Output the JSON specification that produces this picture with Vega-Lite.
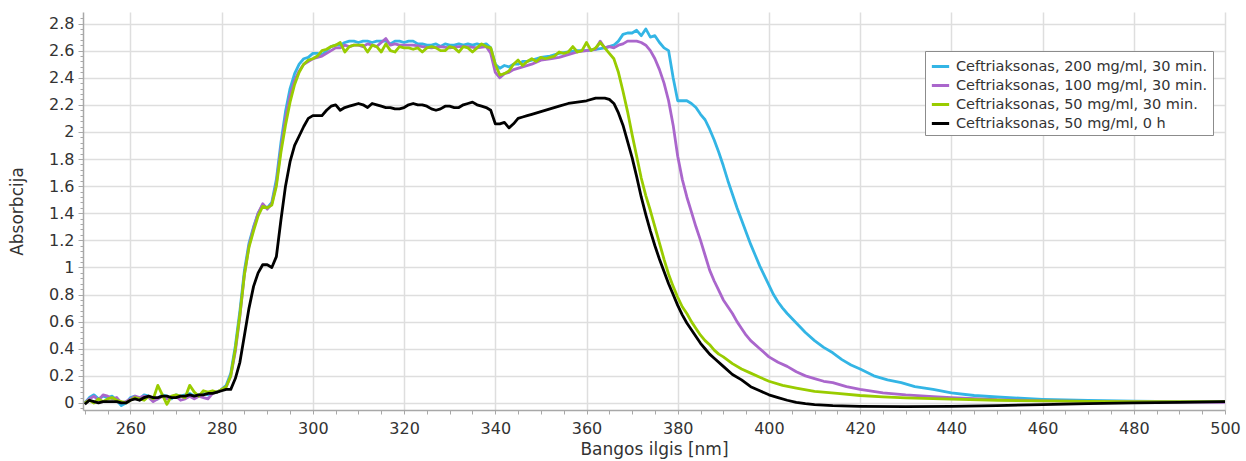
{
  "$schema": "https://vega.github.io/schema/vega-lite/v6.json",
  "width": 1142,
  "height": 398,
  "autosize": {"type": "none"},
  "padding": {"left": 83, "top": 12, "right": 21, "bottom": 51},
  "background": "white",
  "config": {
    "font": "DejaVu Sans",
    "view": {"stroke": null},
    "axis": {
      "labelFont": "DejaVu Sans", "labelFontSize": 16, "labelColor": "#333333",
      "titleFont": "DejaVu Sans", "titleFontSize": 17, "titleFontWeight": "normal", "titleColor": "#333333",
      "domainColor": "#a8a8a8", "domainWidth": 1.5, "tickColor": "#a8a8a8", "gridColor": "#dedede", "gridWidth": 1.5
    },
    "legend": {
      "orient": "none", "legendX": 842, "legendY": 39,
      "strokeColor": "#8c8c8c", "fillColor": "white", "padding": 5,
      "labelFont": "DejaVu Sans", "labelFontSize": 14.5, "labelColor": "#333333",
      "symbolType": "stroke", "symbolStrokeWidth": 3, "symbolSize": 300, "rowPadding": 2, "labelOffset": 5, "labelLimit": 400
    }
  },
  "datasets": {
    "b": [
      {"x":250,"y":0.0},{"x":251,"y":0.04},{"x":252,"y":0.06},{"x":253,"y":0.03},{"x":254,"y":0.05},{"x":255,"y":0.04},{"x":256,"y":0.05},{"x":257,"y":0.02},{"x":258,"y":-0.02},{"x":259,"y":0.0},
      {"x":260,"y":0.04},{"x":261,"y":0.05},{"x":262,"y":0.03},{"x":263,"y":0.06},{"x":264,"y":0.05},{"x":265,"y":0.02},{"x":266,"y":0.03},{"x":267,"y":0.06},{"x":268,"y":0.05},{"x":269,"y":0.03},
      {"x":270,"y":0.06},{"x":271,"y":0.05},{"x":272,"y":0.06},{"x":273,"y":0.07},{"x":274,"y":0.05},{"x":275,"y":0.06},{"x":276,"y":0.07},{"x":277,"y":0.06},{"x":278,"y":0.08},{"x":279,"y":0.08},
      {"x":280,"y":0.1},{"x":281,"y":0.13},{"x":282,"y":0.22},{"x":283,"y":0.42},{"x":284,"y":0.68},{"x":285,"y":0.98},{"x":286,"y":1.18},{"x":287,"y":1.3},{"x":288,"y":1.4},{"x":289,"y":1.46},
      {"x":290,"y":1.44},{"x":291,"y":1.48},{"x":292,"y":1.65},{"x":293,"y":1.92},{"x":294,"y":2.15},{"x":295,"y":2.32},{"x":296,"y":2.43},{"x":297,"y":2.5},{"x":298,"y":2.54},{"x":299,"y":2.55},
      {"x":300,"y":2.58},{"x":301,"y":2.58},{"x":302,"y":2.57},{"x":303,"y":2.6},{"x":304,"y":2.63},{"x":305,"y":2.64},{"x":306,"y":2.64},{"x":307,"y":2.66},{"x":308,"y":2.67},{"x":309,"y":2.67},
      {"x":310,"y":2.66},{"x":311,"y":2.67},{"x":312,"y":2.67},{"x":313,"y":2.66},{"x":314,"y":2.67},{"x":315,"y":2.67},{"x":316,"y":2.67},{"x":317,"y":2.65},{"x":318,"y":2.67},{"x":319,"y":2.67},
      {"x":320,"y":2.66},{"x":321,"y":2.67},{"x":322,"y":2.67},{"x":323,"y":2.65},{"x":324,"y":2.65},{"x":325,"y":2.64},{"x":326,"y":2.64},{"x":327,"y":2.65},{"x":328,"y":2.63},{"x":329,"y":2.65},
      {"x":330,"y":2.64},{"x":331,"y":2.64},{"x":332,"y":2.65},{"x":333,"y":2.64},{"x":334,"y":2.65},{"x":335,"y":2.64},{"x":336,"y":2.65},{"x":337,"y":2.64},{"x":338,"y":2.65},{"x":339,"y":2.62},
      {"x":340,"y":2.5},{"x":341,"y":2.47},{"x":342,"y":2.49},{"x":343,"y":2.48},{"x":344,"y":2.5},{"x":345,"y":2.5},{"x":346,"y":2.52},{"x":347,"y":2.52},{"x":348,"y":2.53},{"x":349,"y":2.54},
      {"x":350,"y":2.55},{"x":352,"y":2.56},{"x":354,"y":2.58},{"x":356,"y":2.59},{"x":358,"y":2.6},{"x":360,"y":2.6},{"x":362,"y":2.61},{"x":364,"y":2.62},{"x":366,"y":2.64},{"x":367,"y":2.67},
      {"x":368,"y":2.72},{"x":369,"y":2.73},{"x":370,"y":2.73},{"x":371,"y":2.75},{"x":372,"y":2.71},{"x":373,"y":2.76},{"x":374,"y":2.7},{"x":375,"y":2.71},{"x":376,"y":2.66},{"x":377,"y":2.62},
      {"x":378,"y":2.6},{"x":379,"y":2.4},{"x":380,"y":2.23},{"x":381,"y":2.23},{"x":382,"y":2.23},{"x":383,"y":2.21},{"x":384,"y":2.18},{"x":385,"y":2.13},{"x":386,"y":2.09},{"x":387,"y":2.02},
      {"x":388,"y":1.94},{"x":389,"y":1.85},{"x":390,"y":1.75},{"x":391,"y":1.64},{"x":392,"y":1.54},{"x":393,"y":1.44},{"x":394,"y":1.35},{"x":395,"y":1.26},{"x":396,"y":1.17},{"x":397,"y":1.09},
      {"x":398,"y":1.01},{"x":399,"y":0.94},{"x":400,"y":0.87},{"x":401,"y":0.8},{"x":402,"y":0.745},{"x":403,"y":0.7},{"x":404,"y":0.66},{"x":406,"y":0.59},{"x":408,"y":0.52},{"x":410,"y":0.46},{"x":412,"y":0.41},{"x":414,"y":0.37},
      {"x":416,"y":0.32},{"x":418,"y":0.28},{"x":420,"y":0.25},{"x":423,"y":0.2},{"x":426,"y":0.17},{"x":429,"y":0.15},{"x":432,"y":0.12},{"x":436,"y":0.1},{"x":440,"y":0.075},{"x":445,"y":0.055},
      {"x":450,"y":0.044},{"x":455,"y":0.035},{"x":460,"y":0.027},{"x":465,"y":0.022},{"x":470,"y":0.018},{"x":480,"y":0.013},{"x":490,"y":0.01},{"x":500,"y":0.01}
    ],
    "p": [
      {"x":250,"y":0.0},{"x":251,"y":0.03},{"x":252,"y":0.05},{"x":253,"y":0.02},{"x":254,"y":0.06},{"x":255,"y":0.05},{"x":256,"y":0.03},{"x":257,"y":0.04},{"x":258,"y":0.0},{"x":259,"y":0.01},
      {"x":260,"y":0.03},{"x":261,"y":0.05},{"x":262,"y":0.04},{"x":263,"y":0.05},{"x":264,"y":0.04},{"x":265,"y":0.01},{"x":266,"y":0.03},{"x":267,"y":0.05},{"x":268,"y":0.03},{"x":269,"y":0.04},
      {"x":270,"y":0.05},{"x":271,"y":0.02},{"x":272,"y":0.03},{"x":273,"y":0.05},{"x":274,"y":0.03},{"x":275,"y":0.05},{"x":276,"y":0.04},{"x":277,"y":0.03},{"x":278,"y":0.07},{"x":279,"y":0.08},
      {"x":280,"y":0.1},{"x":281,"y":0.12},{"x":282,"y":0.2},{"x":283,"y":0.38},{"x":284,"y":0.64},{"x":285,"y":0.95},{"x":286,"y":1.16},{"x":287,"y":1.29},{"x":288,"y":1.4},{"x":289,"y":1.47},
      {"x":290,"y":1.43},{"x":291,"y":1.47},{"x":292,"y":1.62},{"x":293,"y":1.88},{"x":294,"y":2.1},{"x":295,"y":2.27},{"x":296,"y":2.38},{"x":297,"y":2.45},{"x":298,"y":2.5},{"x":299,"y":2.52},
      {"x":300,"y":2.54},{"x":301,"y":2.55},{"x":302,"y":2.56},{"x":303,"y":2.58},{"x":304,"y":2.6},{"x":305,"y":2.62},{"x":306,"y":2.62},{"x":307,"y":2.64},{"x":308,"y":2.63},{"x":309,"y":2.64},
      {"x":310,"y":2.64},{"x":311,"y":2.63},{"x":312,"y":2.65},{"x":313,"y":2.64},{"x":314,"y":2.63},{"x":315,"y":2.66},{"x":316,"y":2.69},{"x":317,"y":2.64},{"x":318,"y":2.65},{"x":319,"y":2.64},
      {"x":320,"y":2.64},{"x":322,"y":2.64},{"x":324,"y":2.63},{"x":326,"y":2.62},{"x":328,"y":2.63},{"x":330,"y":2.62},{"x":332,"y":2.63},{"x":334,"y":2.63},{"x":336,"y":2.62},{"x":338,"y":2.63},
      {"x":339,"y":2.58},{"x":340,"y":2.44},{"x":341,"y":2.4},{"x":342,"y":2.43},{"x":343,"y":2.44},{"x":344,"y":2.46},{"x":346,"y":2.48},{"x":348,"y":2.5},{"x":350,"y":2.53},{"x":352,"y":2.54},
      {"x":354,"y":2.55},{"x":356,"y":2.57},{"x":358,"y":2.59},{"x":360,"y":2.6},{"x":362,"y":2.61},{"x":363,"y":2.67},{"x":364,"y":2.62},{"x":365,"y":2.63},{"x":366,"y":2.62},{"x":367,"y":2.64},
      {"x":368,"y":2.65},{"x":369,"y":2.67},{"x":370,"y":2.67},{"x":371,"y":2.67},{"x":372,"y":2.66},{"x":373,"y":2.64},{"x":374,"y":2.6},{"x":375,"y":2.54},{"x":376,"y":2.46},{"x":377,"y":2.36},
      {"x":378,"y":2.23},{"x":379,"y":2.05},{"x":380,"y":1.82},{"x":381,"y":1.65},{"x":382,"y":1.52},{"x":383,"y":1.41},{"x":384,"y":1.3},{"x":385,"y":1.2},{"x":386,"y":1.09},{"x":387,"y":0.98},
      {"x":388,"y":0.9},{"x":389,"y":0.83},{"x":390,"y":0.76},{"x":391,"y":0.71},{"x":392,"y":0.66},{"x":393,"y":0.6},{"x":394,"y":0.55},{"x":395,"y":0.5},{"x":396,"y":0.46},{"x":398,"y":0.4},
      {"x":400,"y":0.34},{"x":402,"y":0.3},{"x":404,"y":0.27},{"x":406,"y":0.23},{"x":408,"y":0.2},{"x":410,"y":0.18},{"x":412,"y":0.16},{"x":414,"y":0.15},{"x":417,"y":0.12},{"x":420,"y":0.1},
      {"x":425,"y":0.075},{"x":430,"y":0.06},{"x":436,"y":0.047},{"x":440,"y":0.04},{"x":445,"y":0.032},{"x":450,"y":0.024},{"x":455,"y":0.02},{"x":460,"y":0.016},{"x":470,"y":0.012},{"x":480,"y":0.01},
      {"x":490,"y":0.008},{"x":500,"y":0.005}
    ],
    "g": [
      {"x":250,"y":0.0},{"x":251,"y":0.02},{"x":252,"y":0.0},{"x":253,"y":0.03},{"x":254,"y":0.01},{"x":255,"y":0.03},{"x":256,"y":0.04},{"x":257,"y":0.02},{"x":258,"y":0.01},{"x":259,"y":0.0},
      {"x":260,"y":0.02},{"x":261,"y":0.04},{"x":262,"y":0.03},{"x":263,"y":0.02},{"x":264,"y":0.05},{"x":265,"y":0.03},{"x":266,"y":0.13},{"x":267,"y":0.06},{"x":268,"y":-0.01},{"x":269,"y":0.05},
      {"x":270,"y":0.06},{"x":271,"y":0.05},{"x":272,"y":0.04},{"x":273,"y":0.13},{"x":274,"y":0.08},{"x":275,"y":0.05},{"x":276,"y":0.09},{"x":277,"y":0.08},{"x":278,"y":0.09},{"x":279,"y":0.08},
      {"x":280,"y":0.1},{"x":281,"y":0.12},{"x":282,"y":0.2},{"x":283,"y":0.4},{"x":284,"y":0.65},{"x":285,"y":0.95},{"x":286,"y":1.15},{"x":287,"y":1.27},{"x":288,"y":1.38},{"x":289,"y":1.45},
      {"x":290,"y":1.44},{"x":291,"y":1.46},{"x":292,"y":1.6},{"x":293,"y":1.85},{"x":294,"y":2.05},{"x":295,"y":2.22},{"x":296,"y":2.35},{"x":297,"y":2.44},{"x":298,"y":2.5},{"x":299,"y":2.53},
      {"x":300,"y":2.54},{"x":301,"y":2.56},{"x":302,"y":2.6},{"x":303,"y":2.61},{"x":304,"y":2.63},{"x":305,"y":2.64},{"x":306,"y":2.66},{"x":307,"y":2.59},{"x":308,"y":2.63},{"x":309,"y":2.64},
      {"x":310,"y":2.64},{"x":311,"y":2.64},{"x":312,"y":2.59},{"x":313,"y":2.64},{"x":314,"y":2.63},{"x":315,"y":2.59},{"x":316,"y":2.65},{"x":317,"y":2.6},{"x":318,"y":2.59},{"x":319,"y":2.63},
      {"x":320,"y":2.62},{"x":321,"y":2.62},{"x":322,"y":2.61},{"x":323,"y":2.62},{"x":324,"y":2.59},{"x":325,"y":2.62},{"x":326,"y":2.63},{"x":327,"y":2.62},{"x":328,"y":2.6},{"x":329,"y":2.6},
      {"x":330,"y":2.63},{"x":331,"y":2.62},{"x":332,"y":2.59},{"x":333,"y":2.63},{"x":334,"y":2.62},{"x":335,"y":2.59},{"x":336,"y":2.62},{"x":337,"y":2.65},{"x":338,"y":2.63},{"x":339,"y":2.62},
      {"x":340,"y":2.5},{"x":341,"y":2.42},{"x":342,"y":2.43},{"x":343,"y":2.45},{"x":344,"y":2.5},{"x":345,"y":2.53},{"x":346,"y":2.49},{"x":347,"y":2.52},{"x":348,"y":2.54},{"x":349,"y":2.52},
      {"x":350,"y":2.55},{"x":351,"y":2.54},{"x":352,"y":2.55},{"x":353,"y":2.56},{"x":354,"y":2.59},{"x":355,"y":2.58},{"x":356,"y":2.59},{"x":357,"y":2.63},{"x":358,"y":2.59},{"x":359,"y":2.6},
      {"x":360,"y":2.66},{"x":361,"y":2.6},{"x":362,"y":2.62},{"x":363,"y":2.66},{"x":364,"y":2.62},{"x":365,"y":2.58},{"x":366,"y":2.54},{"x":367,"y":2.44},{"x":368,"y":2.3},{"x":369,"y":2.15},
      {"x":370,"y":1.98},{"x":371,"y":1.82},{"x":372,"y":1.66},{"x":373,"y":1.53},{"x":374,"y":1.42},{"x":375,"y":1.3},{"x":376,"y":1.18},{"x":377,"y":1.06},{"x":378,"y":0.95},{"x":379,"y":0.86},
      {"x":380,"y":0.78},{"x":381,"y":0.71},{"x":382,"y":0.66},{"x":383,"y":0.6},{"x":384,"y":0.55},{"x":385,"y":0.5},{"x":386,"y":0.46},{"x":387,"y":0.43},{"x":388,"y":0.39},{"x":389,"y":0.36},
      {"x":390,"y":0.34},{"x":392,"y":0.29},{"x":394,"y":0.25},{"x":396,"y":0.22},{"x":398,"y":0.19},{"x":400,"y":0.16},{"x":403,"y":0.13},{"x":406,"y":0.11},{"x":410,"y":0.085},{"x":415,"y":0.07},
      {"x":420,"y":0.055},{"x":425,"y":0.045},{"x":430,"y":0.037},{"x":440,"y":0.028},{"x":450,"y":0.02},{"x":460,"y":0.015},{"x":470,"y":0.012},{"x":480,"y":0.01},{"x":490,"y":0.01},{"x":500,"y":0.01}
    ],
    "k": [
      {"x":250,"y":-0.01},{"x":251,"y":0.02},{"x":252,"y":0.01},{"x":253,"y":0.0},{"x":254,"y":0.01},{"x":255,"y":0.01},{"x":256,"y":0.01},{"x":257,"y":0.01},{"x":258,"y":0.0},{"x":259,"y":0.0},
      {"x":260,"y":0.02},{"x":261,"y":0.03},{"x":262,"y":0.02},{"x":263,"y":0.04},{"x":264,"y":0.05},{"x":265,"y":0.04},{"x":266,"y":0.04},{"x":267,"y":0.05},{"x":268,"y":0.05},{"x":269,"y":0.04},
      {"x":270,"y":0.04},{"x":271,"y":0.05},{"x":272,"y":0.05},{"x":273,"y":0.06},{"x":274,"y":0.05},{"x":275,"y":0.06},{"x":276,"y":0.06},{"x":277,"y":0.07},{"x":278,"y":0.07},{"x":279,"y":0.08},
      {"x":280,"y":0.09},{"x":281,"y":0.1},{"x":282,"y":0.1},{"x":283,"y":0.18},{"x":284,"y":0.3},{"x":285,"y":0.5},{"x":286,"y":0.7},{"x":287,"y":0.86},{"x":288,"y":0.96},{"x":289,"y":1.02},
      {"x":290,"y":1.02},{"x":291,"y":1.0},{"x":292,"y":1.08},{"x":293,"y":1.35},{"x":294,"y":1.6},{"x":295,"y":1.78},{"x":296,"y":1.9},{"x":297,"y":1.97},{"x":298,"y":2.04},{"x":299,"y":2.1},
      {"x":300,"y":2.12},{"x":301,"y":2.12},{"x":302,"y":2.12},{"x":303,"y":2.16},{"x":304,"y":2.19},{"x":305,"y":2.2},{"x":306,"y":2.16},{"x":307,"y":2.18},{"x":308,"y":2.19},{"x":309,"y":2.2},
      {"x":310,"y":2.21},{"x":311,"y":2.2},{"x":312,"y":2.18},{"x":313,"y":2.21},{"x":314,"y":2.2},{"x":315,"y":2.19},{"x":316,"y":2.18},{"x":317,"y":2.18},{"x":318,"y":2.17},{"x":319,"y":2.17},
      {"x":320,"y":2.18},{"x":321,"y":2.2},{"x":322,"y":2.21},{"x":323,"y":2.2},{"x":324,"y":2.2},{"x":325,"y":2.19},{"x":326,"y":2.17},{"x":327,"y":2.16},{"x":328,"y":2.17},{"x":329,"y":2.19},
      {"x":330,"y":2.19},{"x":331,"y":2.18},{"x":332,"y":2.18},{"x":333,"y":2.2},{"x":334,"y":2.21},{"x":335,"y":2.22},{"x":336,"y":2.2},{"x":337,"y":2.19},{"x":338,"y":2.18},{"x":339,"y":2.16},
      {"x":340,"y":2.06},{"x":341,"y":2.06},{"x":342,"y":2.07},{"x":343,"y":2.03},{"x":344,"y":2.06},{"x":345,"y":2.1},{"x":346,"y":2.11},{"x":347,"y":2.12},{"x":348,"y":2.13},{"x":350,"y":2.15},
      {"x":352,"y":2.17},{"x":354,"y":2.19},{"x":356,"y":2.21},{"x":358,"y":2.22},{"x":360,"y":2.23},{"x":362,"y":2.25},{"x":364,"y":2.25},{"x":365,"y":2.24},{"x":366,"y":2.21},{"x":367,"y":2.14},
      {"x":368,"y":2.05},{"x":369,"y":1.93},{"x":370,"y":1.81},{"x":371,"y":1.67},{"x":372,"y":1.52},{"x":373,"y":1.39},{"x":374,"y":1.27},{"x":375,"y":1.16},{"x":376,"y":1.06},{"x":377,"y":0.97},
      {"x":378,"y":0.88},{"x":379,"y":0.8},{"x":380,"y":0.72},{"x":381,"y":0.65},{"x":382,"y":0.59},{"x":383,"y":0.54},{"x":384,"y":0.49},{"x":385,"y":0.44},{"x":386,"y":0.4},{"x":387,"y":0.36},
      {"x":388,"y":0.33},{"x":390,"y":0.27},{"x":392,"y":0.21},{"x":394,"y":0.17},{"x":396,"y":0.12},{"x":398,"y":0.09},{"x":400,"y":0.06},{"x":402,"y":0.04},{"x":404,"y":0.02},{"x":406,"y":0.005},
      {"x":408,"y":-0.005},{"x":410,"y":-0.012},{"x":414,"y":-0.02},{"x":420,"y":-0.025},{"x":430,"y":-0.027},{"x":440,"y":-0.025},{"x":450,"y":-0.02},{"x":460,"y":-0.012},{"x":470,"y":-0.005},{"x":480,"y":0.0},
      {"x":490,"y":0.005},{"x":500,"y":0.01}
    ]
  },
  "encoding": {
    "x": {
      "field": "x", "type": "quantitative",
      "scale": {"domain": [249.6, 500], "nice": false, "zero": false},
      "axis": {
        "title": "Bangos ilgis [nm]",
        "values": [250,255,260,265,270,275,280,285,290,295,300,305,310,315,320,325,330,335,340,345,350,355,360,365,370,375,380,385,390,395,400,405,410,415,420,425,430,435,440,445,450,455,460,465,470,475,480,485,490,495,500],
        "format": "d",
        "labelExpr": "datum.value % 20 == 0 ? datum.label : ''",
        "gridOpacity": {"condition": {"test": "datum.value % 20 == 0", "value": 1}, "value": 0},
        "tickSize": 4,
        "labelFlush": false, "labelOverlap": false, "labelPadding": 6, "titlePadding": 5
      }
    },
    "y": {
      "field": "y", "type": "quantitative",
      "scale": {"domain": [-0.052, 2.885], "nice": false, "zero": false},
      "axis": {
        "title": "Absorbcija",
        "values": [-0.04,0,0.04,0.08,0.12,0.16,0.2,0.24,0.28,0.32,0.36,0.4,0.44,0.48,0.52,0.56,0.6,0.64,0.68,0.72,0.76,0.8,0.84,0.88,0.92,0.96,1,1.04,1.08,1.12,1.16,1.2,1.24,1.28,1.32,1.36,1.4,1.44,1.48,1.52,1.56,1.6,1.64,1.68,1.72,1.76,1.8,1.84,1.88,1.92,1.96,2,2.04,2.08,2.12,2.16,2.2,2.24,2.28,2.32,2.36,2.4,2.44,2.48,2.52,2.56,2.6,2.64,2.68,2.72,2.76,2.8,2.84],
        "labelExpr": "abs(datum.value*5 - round(datum.value*5)) < 0.01 ? format(datum.value, '.1~f') : ''",
        "gridOpacity": {"condition": {"test": "abs(datum.value*5 - round(datum.value*5)) < 0.01", "value": 1}, "value": 0},
        "tickSize": {"condition": {"test": "abs(datum.value*5 - round(datum.value*5)) < 0.01", "value": 5}, "value": 3},
        "labelFlush": false, "labelOverlap": false, "labelPadding": 4, "titlePadding": 22
      }
    }
  },
  "layer": [
    {
      "data": {"name": "b"},
      "mark": {"type": "line", "strokeWidth": 2.8, "clip": true, "strokeJoin": "round"},
      "encoding": {
        "color": {
          "datum": "Ceftriaksonas, 200 mg/ml, 30 min.", "title": null,
          "scale": {
            "domain": ["Ceftriaksonas, 200 mg/ml, 30 min.", "Ceftriaksonas, 100 mg/ml, 30 min.", "Ceftriaksonas, 50 mg/ml, 30 min.", "Ceftriaksonas, 50 mg/ml, 0 h"],
            "range": ["#33b5e5", "#aa66cc", "#99cc00", "#000000"]
          }
        }
      }
    },
    {
      "data": {"name": "p"},
      "mark": {"type": "line", "strokeWidth": 2.8, "clip": true, "strokeJoin": "round"},
      "encoding": {"color": {"datum": "Ceftriaksonas, 100 mg/ml, 30 min.", "title": null}}
    },
    {
      "data": {"name": "g"},
      "mark": {"type": "line", "strokeWidth": 2.8, "clip": true, "strokeJoin": "round"},
      "encoding": {"color": {"datum": "Ceftriaksonas, 50 mg/ml, 30 min.", "title": null}}
    },
    {
      "data": {"name": "k"},
      "mark": {"type": "line", "strokeWidth": 2.8, "clip": true, "strokeJoin": "round"},
      "encoding": {"color": {"datum": "Ceftriaksonas, 50 mg/ml, 0 h", "title": null}}
    }
  ]
}
